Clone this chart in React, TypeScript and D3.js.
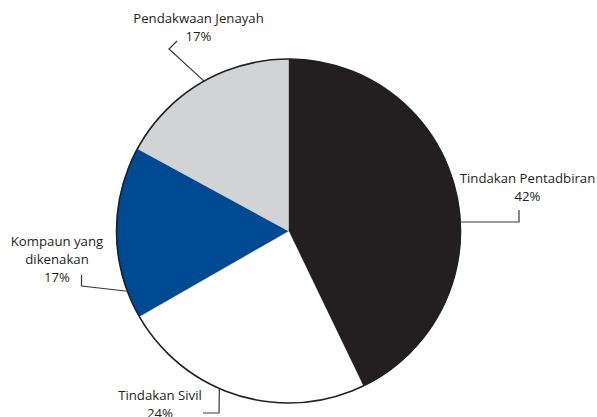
import React from "react";
import * as d3 from "d3";

const categories = ["Tindakan Pentadbiran", "Tindakan Sivil", "Kompaun yang dikenakan", "Pendakwaan Jenayah"];
const values = [42.85, 23.87, 16.22, 17.06];
const percentLabels = ["42%", "24%", "17%", "17%"];
const colors = ["#231f20", "#ffffff", "#004a93", "#d1d3d4"];

// label layout (annotation positions)
const labelLines = [["Tindakan Pentadbiran", "42%"], ["Tindakan Sivil", "24%"], ["Kompaun yang", "dikenakan", "17%"], ["Pendakwaan Jenayah", "17%"]];
const labelPos = [
  { x: 527.5, y: 182.7 },
  { x: 160, y: 400 },
  { x: 57, y: 246 },
  { x: 198.5, y: 22.7 },
];
const leaderAngleDeg = [87, 203.7, 249.5, 330.6];
const leaderRest = [
  [[519, 222], [519, 210]],
  [[219, 413], [203, 413]],
  [[81.5, 286], [81.5, 275]],
  [[169, 49], [177, 41]],
];

export default function App() {
  const W = 597, H = 417;
  const cx = 288.5, cy = 231, r = 172;
  const pie = d3.pie<number>().sort(null).value((d) => d);
  const arcs = pie(values);
  const arc = d3.arc<d3.PieArcDatum<number>>().innerRadius(0).outerRadius(r);
  const lineGen = d3.line();

  return (
    <svg width={W} height={H} style={{ position: "absolute", left: 0, top: 0 }} fontFamily="'Open Sans', sans-serif">
      <rect width={W} height={H} fill="#fff" />
      <g transform={`translate(${cx},${cy})`}>
        {arcs.map((a, i) => (
          <path key={i} d={arc(a) || ""} fill={colors[i]} stroke={colors[i]} strokeWidth={0.5} />
        ))}
        <circle r={r} fill="none" stroke="#231f20" strokeWidth={1.6} />
      </g>
      {categories.map((c, i) => {
        const ang = (leaderAngleDeg[i] * Math.PI) / 180;
        const sx = cx + r * Math.sin(ang);
        const sy = cy - r * Math.cos(ang);
        const pts: [number, number][] = [[sx, sy], ...(leaderRest[i] as [number, number][])];
        return <path key={"l" + i} d={lineGen(pts) || ""} fill="none" stroke="#3a3a3a" strokeWidth={1.2} />;
      })}
      {labelLines.map((lines, i) => (
        <text key={"t" + i} textAnchor="middle" fontSize={13.2} fill="#231f20">
          {lines.map((ln, j) => (
            <tspan key={j} x={labelPos[i].x} y={labelPos[i].y + j * 18.2}>
              {j === lines.length - 1 ? percentLabels[i] : ln}
            </tspan>
          ))}
        </text>
      ))}
    </svg>
  );
}
